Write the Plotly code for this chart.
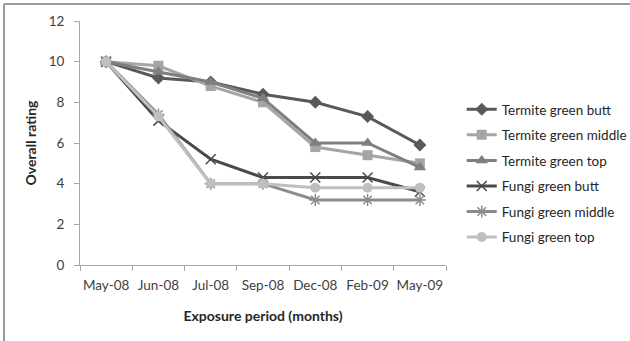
import plotly.graph_objects as go

months = ["May-08", "Jun-08", "Jul-08", "Sep-08", "Dec-08", "Feb-09", "May-09"]

termite_butt = [10, 9.2, 9.0, 8.4, 8.0, 7.3, 5.9]
termite_middle = [10, 9.8, 8.8, 8.0, 5.8, 5.4, 5.0]
termite_top = [10, 9.5, 9.0, 8.2, 6.0, 6.0, 4.8]
fungi_butt = [10, 7.1, 5.2, 4.3, 4.3, 4.3, 3.6]
fungi_middle = [10, 7.4, 4.0, 4.0, 3.2, 3.2, 3.2]
fungi_top = [10, 7.3, 4.0, 4.0, 3.8, 3.8, 3.8]

series = [
    ("Termite green butt", termite_butt, "#595959", "diamond", 10),
    ("Termite green middle", termite_middle, "#A5A5A5", "square", 10),
    ("Termite green top", termite_top, "#7F7F7F", "triangle-up", 11),
    ("Fungi green butt", fungi_butt, "#4A4A4A", "x-thin", 10),
    ("Fungi green middle", fungi_middle, "#8C8C8C", "asterisk", 10),
    ("Fungi green top", fungi_top, "#BFBFBF", "circle", 10),
]

font_family = "Lato, 'Open Sans', sans-serif"

fig = go.Figure()
for i, (name, vals, color, symbol, size) in enumerate(series):
    open_sym = symbol in ("x-thin", "asterisk")
    fig.add_trace(go.Scatter(
        x=months, y=vals, name=name, mode="lines+markers",
        legendgroup=f"g{i}",
        line=dict(color=color, width=3),
        marker=dict(symbol=symbol, size=size, color=color,
                    line=dict(color=color, width=1.5 if open_sym else 0)),
    ))

axis_col = "#A6A6A6"
fig.update_layout(
    width=630, height=341,
    margin=dict(l=80, r=184, t=21, b=76, autoexpand=False),
    paper_bgcolor="white", plot_bgcolor="white",
    font=dict(family=font_family, size=13, color="#404040"),
    legend=dict(x=1.043, y=0.375, xanchor="left", yanchor="middle",
                traceorder="grouped", tracegroupgap=5,
                font=dict(size=13.5, color="#262626"),
                bgcolor="rgba(0,0,0,0)", itemwidth=30),
    xaxis=dict(
        type="category", showgrid=False, showline=True, linecolor=axis_col,
        linewidth=1, ticks="outside", tickson="boundaries", ticklen=5,
        tickcolor=axis_col, tickfont=dict(size=13.5, color="#404040"),
        tickangle=0, ticklabelstandoff=8, automargin=False,
        title=dict(text="<b>Exposure period (months)</b>",
                   font=dict(size=14, color="#262626"), standoff=18),
        range=[-0.5, 6.5],
    ),
    yaxis=dict(
        range=[0, 12], dtick=2, showgrid=False, showline=True,
        linecolor=axis_col, linewidth=1, ticks="outside", ticklen=5,
        tickcolor=axis_col, tickfont=dict(size=13.5, color="#404040"),
        ticklabelstandoff=7, automargin=False,
        title=dict(text="<b>Overall rating</b>",
                   font=dict(size=14, color="#262626"), standoff=8),
        zeroline=False,
    ),
)

# outer chart frame (left and top edges)
fig.add_shape(type="line", xref="paper", yref="paper",
              x0=-76 / 366, x1=-76 / 366, y0=-76 / 244, y1=1 + 17 / 244,
              line=dict(color="#9A9A9A", width=2))
fig.add_shape(type="line", xref="paper", yref="paper",
              x0=-76 / 366, x1=1 + 184 / 366, y0=1 + 17 / 244, y1=1 + 17 / 244,
              line=dict(color="#9A9A9A", width=2))

fig.write_html("out.html", config={"displayModeBar": False})
